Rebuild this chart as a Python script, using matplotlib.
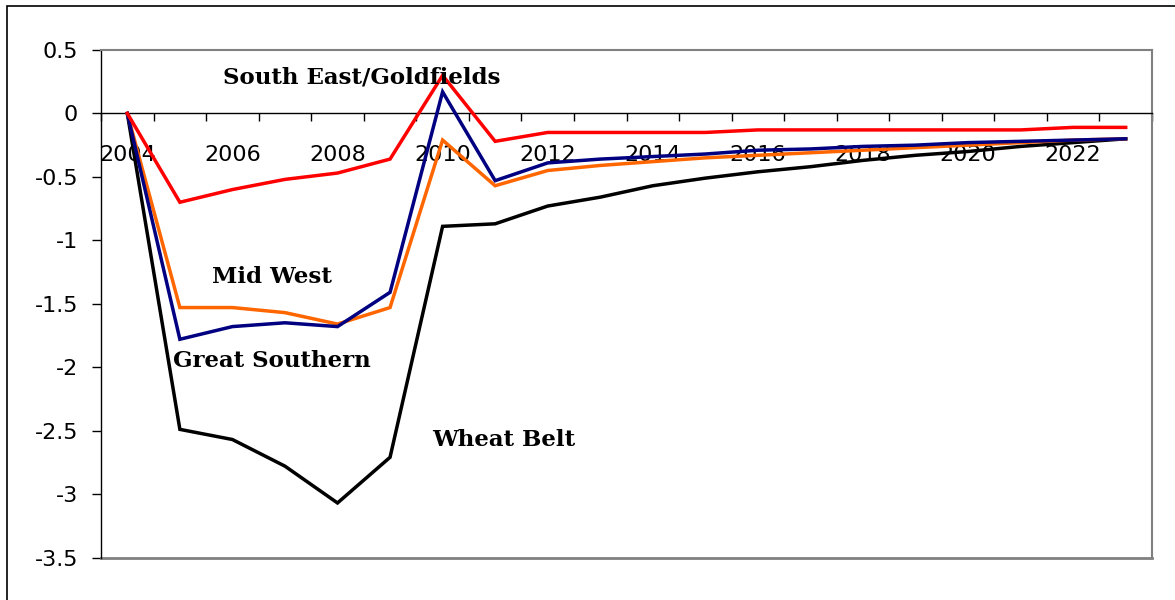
import numpy as np
import matplotlib.pyplot as plt
from matplotlib.patches import Rectangle

years = list(range(2004, 2024))
tick_years = [2004, 2006, 2008, 2010, 2012, 2014, 2016, 2018, 2020, 2022]

south_east = [0, -0.70, -0.60, -0.52, -0.47, -0.36, 0.30, -0.22, -0.15, -0.15,
              -0.15, -0.15, -0.13, -0.13, -0.13, -0.13, -0.13, -0.13, -0.11, -0.11]
great_southern = [0, -1.78, -1.68, -1.65, -1.68, -1.41, 0.17, -0.53, -0.39, -0.36,
                  -0.34, -0.32, -0.29, -0.28, -0.26, -0.25, -0.23, -0.22, -0.21, -0.20]
mid_west = [0, -1.53, -1.53, -1.57, -1.66, -1.53, -0.21, -0.57, -0.45, -0.41,
            -0.38, -0.35, -0.33, -0.31, -0.29, -0.27, -0.25, -0.23, -0.21, -0.20]
wheat_belt = [0, -2.49, -2.57, -2.78, -3.07, -2.71, -0.89, -0.87, -0.73, -0.66,
              -0.57, -0.51, -0.46, -0.42, -0.37, -0.33, -0.30, -0.26, -0.23, -0.20]

series = [
    (wheat_belt, "black"),
    (mid_west, "#ff6600"),
    (great_southern, "#000080"),
    (south_east, "#ff0000"),
]

fig = plt.figure(figsize=(11.75, 6), dpi=100)
ax = fig.add_axes([0.086, 0.0708, 0.8944, 0.8459])

x = np.arange(len(years))
for vals, col in series:
    ax.plot(x, vals, color=col, lw=2.5, solid_joinstyle="miter", zorder=3)

ax.set_xlim(-0.5, len(years) - 0.5)
ax.set_ylim(-3.5, 0.5)
ax.set_yticks(np.arange(-3.5, 0.51, 0.5))
ax.set_yticklabels(["-3.5", "-3", "-2.5", "-2", "-1.5", "-1", "-0.5", "0", "0.5"])

# category axis crossing at zero, ticks between categories
ax.spines["bottom"].set_position(("data", 0))
ax.spines["bottom"].set_linewidth(1.0)
ax.set_xticks(np.arange(-0.5, len(years), 1.0))
ax.set_xticklabels([])
ax.tick_params(axis="x", which="major", direction="out", length=6, width=1)
ax.set_xticks([years.index(y) for y in tick_years], minor=True)
ax.set_xticklabels([str(y) for y in tick_years], minor=True)
ax.tick_params(axis="x", which="minor", length=0, pad=23, labelsize=16)
ax.tick_params(axis="y", direction="out", length=6.5, width=1, pad=10, labelsize=16)
for lab in ax.get_xticklabels(minor=True) + ax.get_yticklabels():
    lab.set_fontfamily("DejaVu Sans")

ax.spines["left"].set_linewidth(1.0)
for s in ["top", "right"]:
    ax.spines[s].set_color("#808080")
    ax.spines[s].set_linewidth(1.5)
# gray frame line at the bottom of the plot area
ax.axhline(-3.5, color="#808080", lw=2, clip_on=False, zorder=2)

lab_kw = dict(fontsize=16.5, fontweight="bold", family="DejaVu Serif", ha="center", va="center")
ax.text(4.47, 0.28, "South East/Goldfields", **lab_kw)
ax.text(2.75, -1.29, "Mid West", **lab_kw)
ax.text(2.75, -1.95, "Great Southern", **lab_kw)
ax.text(7.16, -2.57, "Wheat Belt", **lab_kw)

# outer chart frame
fig.add_artist(Rectangle((7 / 1175, -0.2), 1.2, 1.2 - 6 / 600, transform=fig.transFigure,
                         fill=False, edgecolor="black", lw=1.2))

fig.savefig("out.png", dpi=100)
